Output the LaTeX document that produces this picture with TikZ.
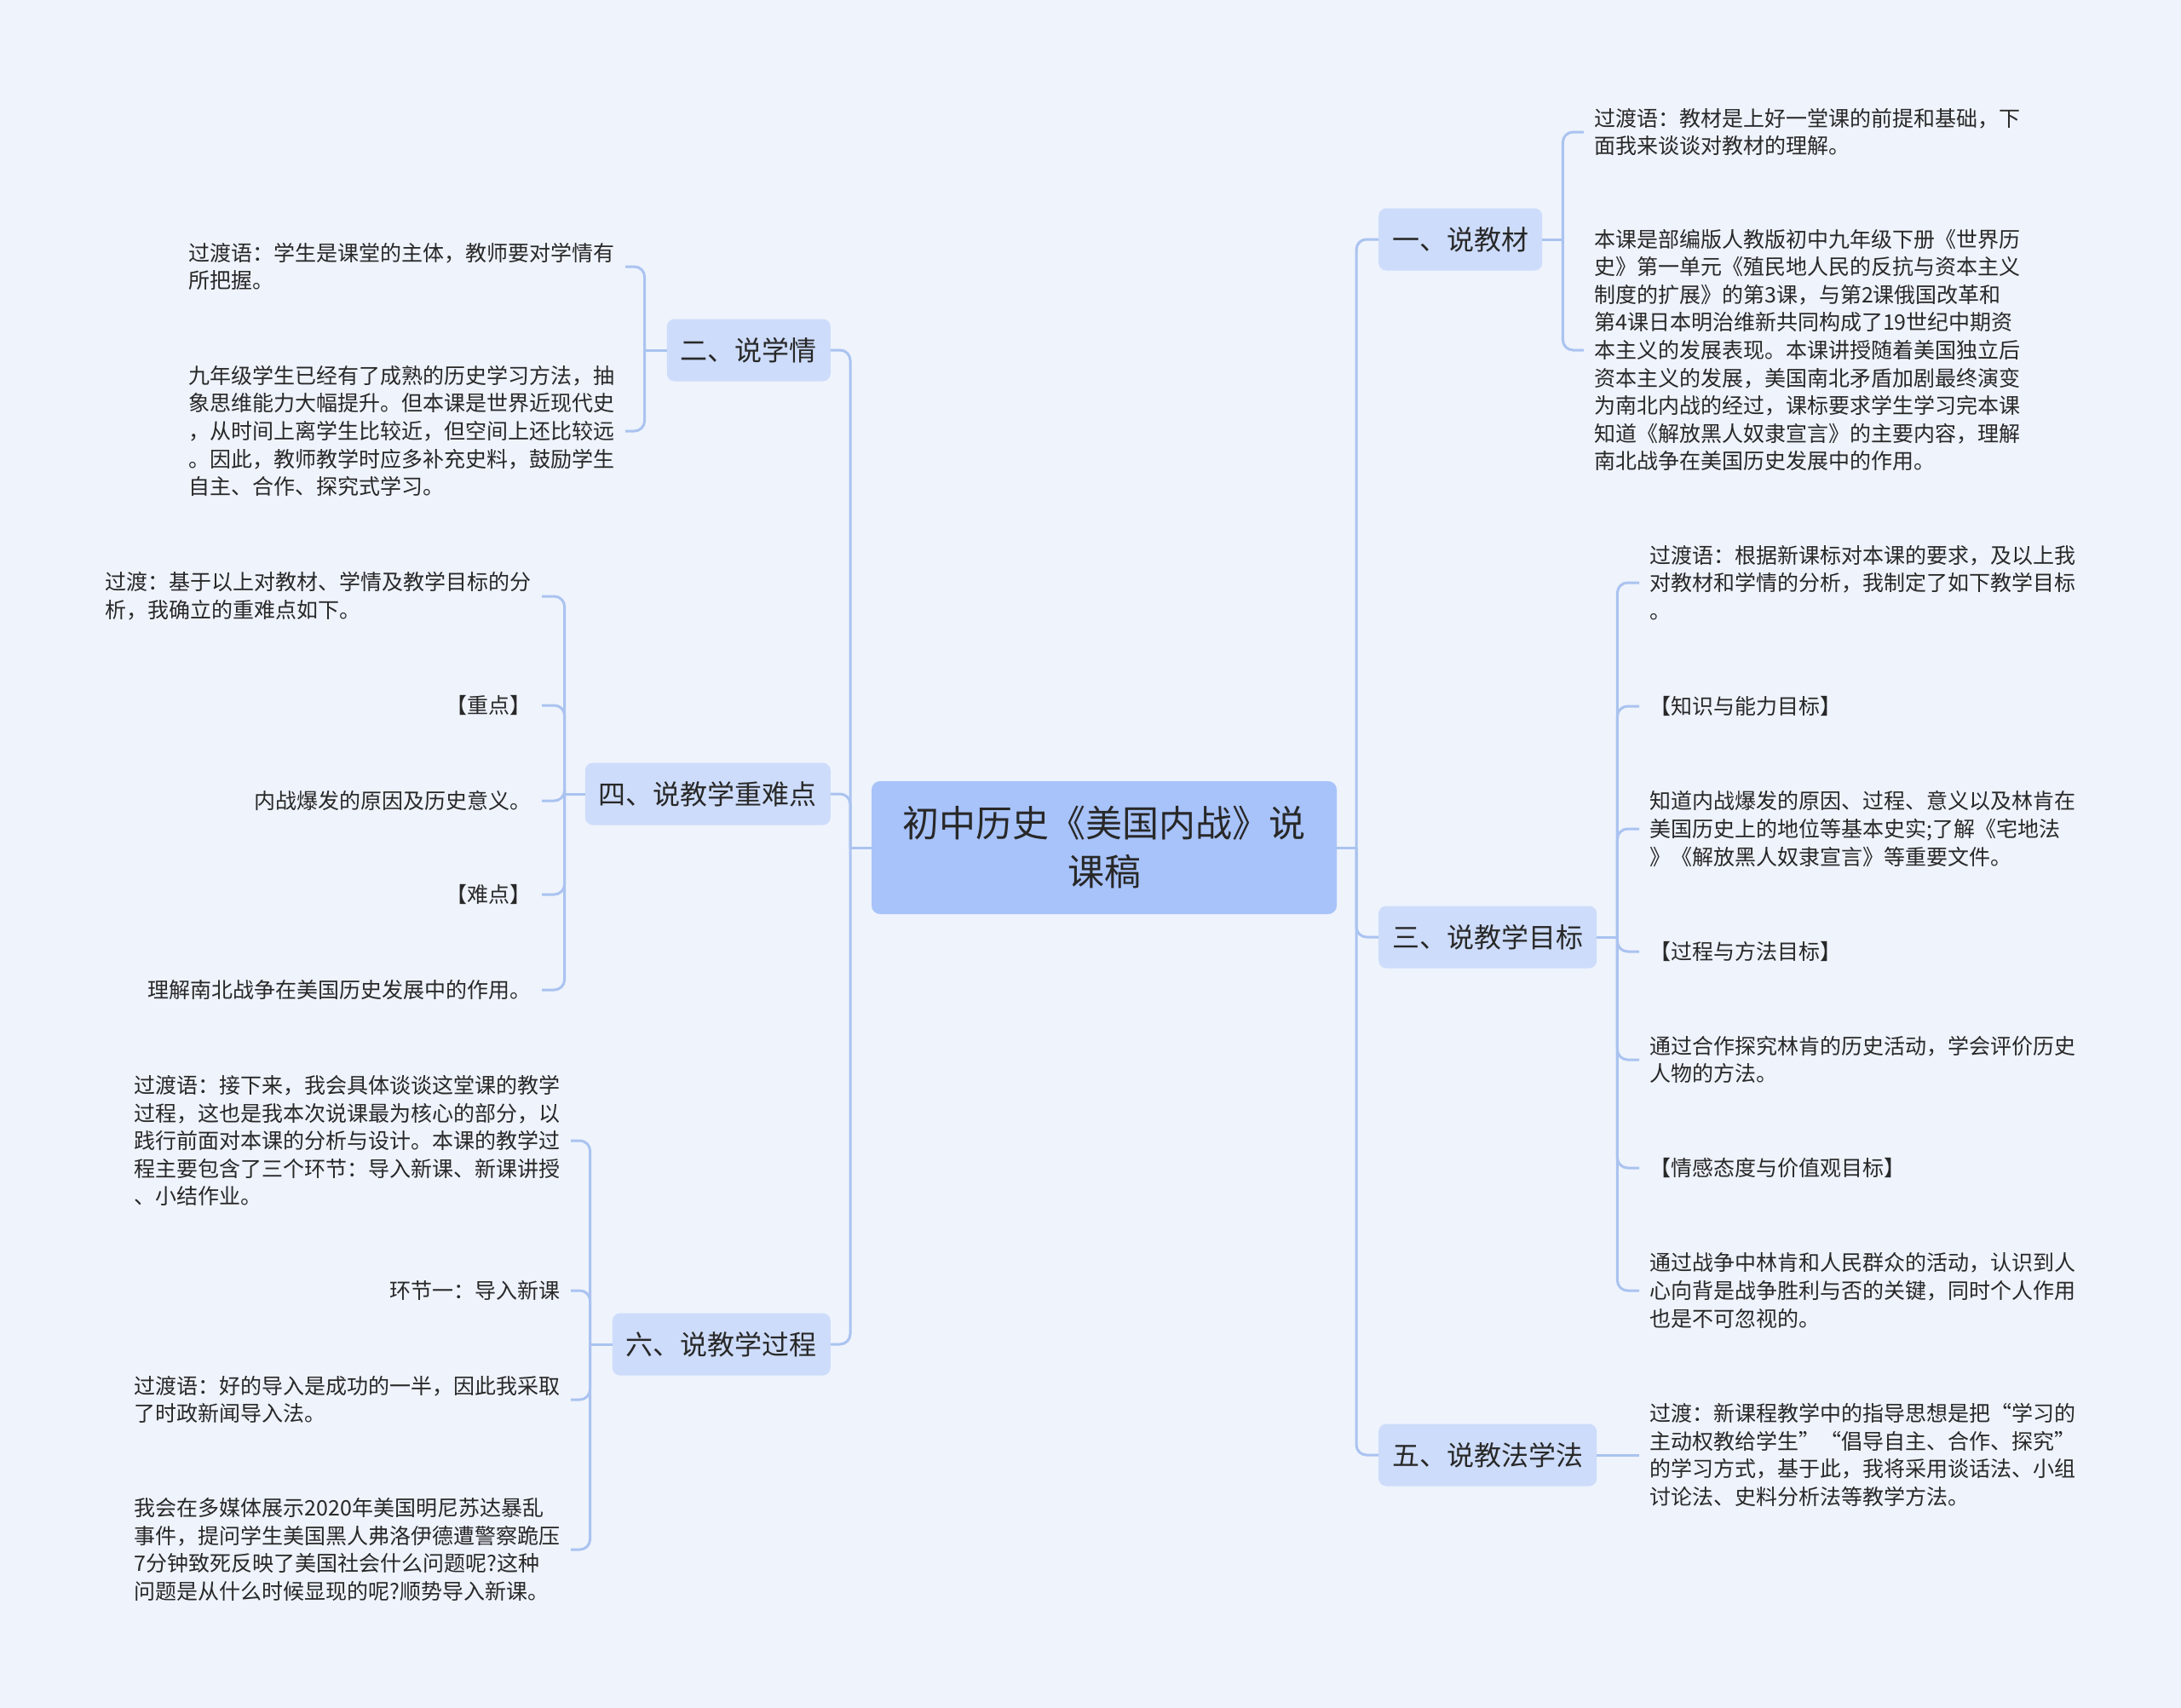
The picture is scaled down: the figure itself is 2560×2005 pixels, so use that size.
\documentclass[tikz,border=0pt]{standalone}
\usepackage{fontspec}
\setmainfont{Noto Sans CJK SC}
\usepackage{tikz}
\usetikzlibrary{positioning}
\definecolor{bgc}{RGB}{238,243,252}
\definecolor{rtc}{RGB}{168,195,250}
\definecolor{brc}{RGB}{205,220,250}
\definecolor{lnc}{RGB}{170,195,240}
\definecolor{txc}{RGB}{40,40,40}
\tikzstyle{rt}=[fill=rtc, rounded corners=10pt, align=center, text=txc, minimum width=546pt,
		minimum height=156pt, inner sep=0pt, font=\fontsize{43}{57}\selectfont]
\tikzstyle{br}=[fill=brc, rounded corners=9pt, text=txc, minimum height=73pt, inner xsep=16pt,
		inner ysep=0pt, font=\fontsize{32}{40}\selectfont]
\tikzstyle{lf}=[align=left, text=txc, inner xsep=12pt, inner ysep=0pt, font=\fontsize{25}{32.6}\selectfont]
\tikzstyle{lfr}=[lf, anchor=west]
\tikzstyle{lfl}=[lf, anchor=east]
\tikzstyle{ln}=[draw=lnc, line width=3pt, rounded corners=12pt]

\begin{document}
\begin{tikzpicture}[x=1pt, y=-1pt]
                \useasboundingbox (0,0) rectangle (2560,2005);
                \fill[bgc] (0,0) rectangle (2560,2005);
                \node[rt] (root) at (1296,995) {初中历史《美国内战》说\\课稿};
                \node[br, anchor=west] (n1) at (1618,281) {一、说教材};
                \node[br, anchor=west] (n3) at (1618,1100) {三、说教学目标};
                \node[br, anchor=west] (n5) at (1618,1708) {五、说教法学法};
                \node[br, anchor=east] (n2) at (975,411) {二、说学情};
                \node[br, anchor=east] (n4) at (975,932) {四、说教学重难点};
                \node[br, anchor=east] (n6) at (975,1578) {六、说教学过程};
                \node[lfr] (a1) at (1859,155) {过渡语：教材是上好一堂课的前提和基础，下\\面我来谈谈对教材的理解。};
                \node[lfr] (a2) at (1859,411) {本课是部编版人教版初中九年级下册《世界历\\史》第一单元《殖民地人民的反抗与资本主义\\制度的扩展》的第3课，与第2课俄国改革和\\第4课日本明治维新共同构成了19世纪中期资\\本主义的发展表现。本课讲授随着美国独立后\\资本主义的发展，美国南北矛盾加剧最终演变\\为南北内战的经过，课标要求学生学习完本课\\知道《解放黑人奴隶宣言》的主要内容，理解\\南北战争在美国历史发展中的作用。};
                \node[lfr] (b1) at (1924,684) {过渡语：根据新课标对本课的要求，及以上我\\对教材和学情的分析，我制定了如下教学目标\\。};
                \node[lfr] (b2) at (1924,829) {【知识与能力目标】};
                \node[lfr] (b3) at (1924,973) {知道内战爆发的原因、过程、意义以及林肯在\\美国历史上的地位等基本史实;了解《宅地法\\》《解放黑人奴隶宣言》等重要文件。};
                \node[lfr] (b4) at (1924,1117) {【过程与方法目标】};
                \node[lfr] (b5) at (1924,1244) {通过合作探究林肯的历史活动，学会评价历史\\人物的方法。};
                \node[lfr] (b6) at (1924,1371) {【情感态度与价值观目标】};
                \node[lfr] (b7) at (1924,1515) {通过战争中林肯和人民群众的活动，认识到人\\心向背是战争胜利与否的关键，同时个人作用\\也是不可忽视的。};
                \node[lfr] (c1) at (1924,1708) {过渡：新课程教学中的指导思想是把“学习的\\主动权教给学生”“倡导自主、合作、探究”\\的学习方式，基于此，我将采用谈话法、小组\\讨论法、史料分析法等教学方法。};
                \node[lfl] (d1) at (734,313) {过渡语：学生是课堂的主体，教师要对学情有\\所把握。};
                \node[lfl] (d2) at (734,506) {九年级学生已经有了成熟的历史学习方法，抽\\象思维能力大幅提升。但本课是世界近现代史\\，从时间上离学生比较近，但空间上还比较远\\。因此，教师教学时应多补充史料，鼓励学生\\自主、合作、探究式学习。};
                \node[lfl] (e1) at (636,700) {过渡：基于以上对教材、学情及教学目标的分\\析，我确立的重难点如下。};
                \node[lfl] (e2) at (636,828) {【重点】};
                \node[lfl] (e3) at (636,940) {内战爆发的原因及历史意义。};
                \node[lfl] (e4) at (636,1050) {【难点】};
                \node[lfl] (e5) at (636,1162) {理解南北战争在美国历史发展中的作用。};
                \node[lfl] (f1) at (670,1339) {过渡语：接下来，我会具体谈谈这堂课的教学\\过程，这也是我本次说课最为核心的部分，以\\践行前面对本课的分析与设计。本课的教学过\\程主要包含了三个环节：导入新课、新课讲授\\、小结作业。};
                \node[lfl] (f2) at (670,1515) {环节一：导入新课};
                \node[lfl] (f3) at (670,1643) {过渡语：好的导入是成功的一半，因此我采取\\了时政新闻导入法。};
                \node[lfl] (f4) at (670,1819) {我会在多媒体展示2020年美国明尼苏达暴乱\\事件，提问学生美国黑人弗洛伊德遭警察跪压\\7分钟致死反映了美国社会什么问题呢?这种\\问题是从什么时候显现的呢?顺势导入新课。};
                \coordinate (rs) at (1592,995);
                \coordinate (ls) at (998,995);
                \coordinate (s1) at ([xshift=24pt]n1.east);
                \coordinate (s3) at ([xshift=24pt]n3.east);
                \coordinate (s2) at ([xshift=-26pt]n2.west);
                \coordinate (s4) at ([xshift=-24pt]n4.west);
                \coordinate (s6) at ([xshift=-26pt]n6.west);
                \draw[ln] (root.east) -- (rs);
                \draw[ln] (root.west) -- (ls);
                \foreach \c in {n1,n3,n5} \draw[ln] (rs) |- (\c.west);
                \foreach \c in {n2,n4,n6} \draw[ln] (ls) |- (\c.east);
                \draw[ln] (n1.east) -- (s1);
                \foreach \c in {a1,a2} \draw[ln] (s1) |- (\c.west);
                \draw[ln] (n3.east) -- (s3);
                \foreach \c in {b1,b2,b3,b4,b5,b6,b7} \draw[ln] (s3) |- (\c.west);
                \draw[ln] (n5.east) -- (c1.west);
                \draw[ln] (n2.west) -- (s2);
                \foreach \c in {d1,d2} \draw[ln] (s2) |- (\c.east);
                \draw[ln] (n4.west) -- (s4);
                \foreach \c in {e1,e2,e3,e4,e5} \draw[ln] (s4) |- (\c.east);
                \draw[ln] (n6.west) -- (s6);
                \foreach \c in {f1,f2,f3,f4} \draw[ln] (s6) |- (\c.east);
            \end{tikzpicture}
\end{document}
